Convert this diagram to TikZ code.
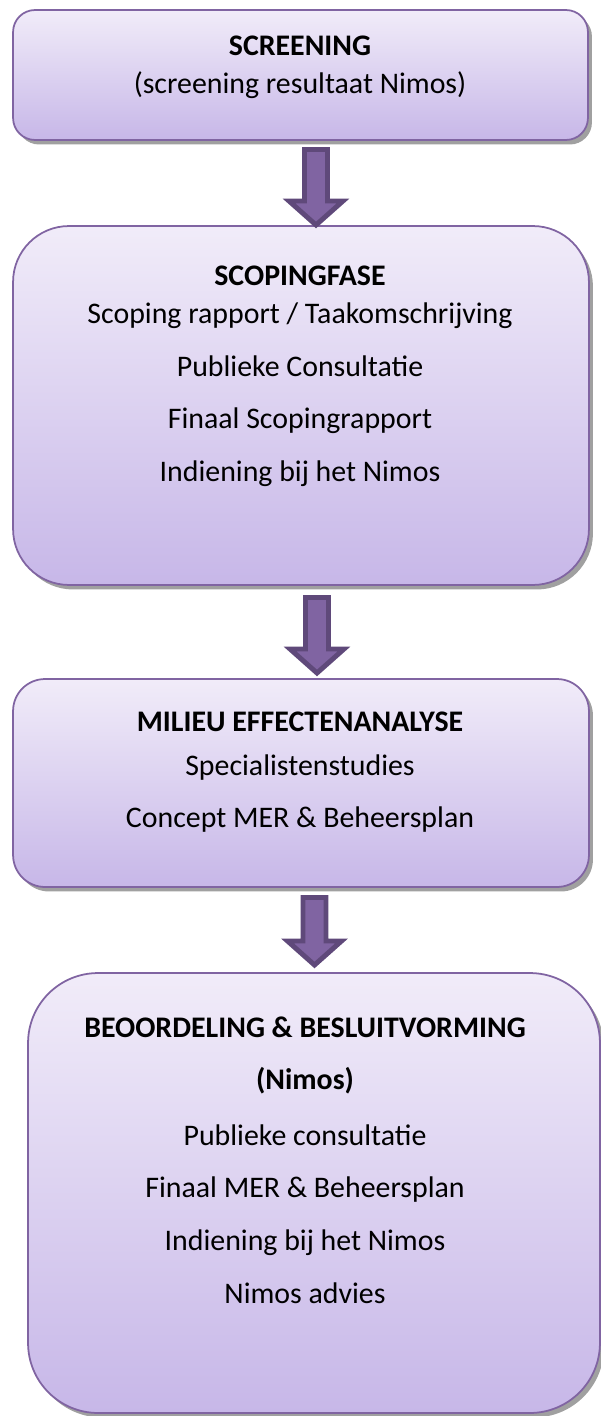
\documentclass[tikz,border=0pt]{standalone}
\usepackage{fontspec}
\setmainfont{Carlito}
\usetikzlibrary{shadows}

\definecolor{paarsrand}{RGB}{128,100,162}
\definecolor{paarslicht}{RGB}{241,236,249}
\definecolor{paarsdonker}{RGB}{199,183,232}
\definecolor{pijlvul}{RGB}{128,100,162}
\definecolor{pijlrand}{RGB}{95,73,122}
\definecolor{schaduw}{RGB}{160,160,160}

\tikzset{
  fase/.style={draw=paarsrand, line width=1pt, top color=paarslicht, bottom color=paarsdonker,
    drop shadow={shadow xshift=0.08cm, shadow yshift=-0.09cm, fill=schaduw, opacity=1},
    inner sep=0pt},
  tekst/.style={anchor=base, font=\fontsize{17}{20}\selectfont},
  titel/.style={anchor=base, font=\fontsize{17}{20}\selectfont\bfseries},
  pijl/.style={draw=pijlrand, fill=pijlvul, line width=2.8pt, line join=miter}
}

\begin{document}
\begin{tikzpicture}[x=0.02cm,y=-0.02cm]
\useasboundingbox (0,0) rectangle (601,1416);

% fasen
\node[fase, rounded corners=0.44cm, minimum width=11.5cm, minimum height=2.6cm] (screening) at (300.5,75) {};
\node[fase, rounded corners=1.12cm, minimum width=11.52cm, minimum height=7.18cm] (scoping) at (301,405.5) {};
\node[fase, rounded corners=0.64cm, minimum width=11.52cm, minimum height=4.16cm] (milieu) at (301,783) {};
\node[fase, rounded corners=1.4cm, minimum width=11.44cm, minimum height=8.8cm] (beoordeling) at (314,1193) {};

% teksten
\node[titel] (t1) at (300,56) {SCREENING};
\node[tekst] (t1a) at (300,93) {(screening resultaat Nimos)};

\node[titel] (t2) at (300,285) {SCOPINGFASE};
\node[tekst] (t2a) at (300,323) {Scoping rapport / Taakomschrijving};
\node[tekst] (t2b) at (300,376) {Publieke Consultatie};
\node[tekst] (t2c) at (300,428) {Finaal Scopingrapport};
\node[tekst] (t2d) at (300,481) {Indiening bij het Nimos};

\node[titel] (t3) at (300,731) {MILIEU EFFECTENANALYSE};
\node[tekst] (t3a) at (300,775) {Specialistenstudies};
\node[tekst] (t3b) at (300,827) {Concept MER \& Beheersplan};

\node[titel] (t4) at (305,1037) {BEOORDELING \& BESLUITVORMING};
\node[titel] (t4a) at (305,1089) {(Nimos)};
\node[tekst] (t4b) at (305,1145) {Publieke consultatie};
\node[tekst] (t4c) at (305,1197) {Finaal MER \& Beheersplan};
\node[tekst] (t4d) at (305,1250) {Indiening bij het Nimos};
\node[tekst] (t4e) at (305,1303) {Nimos advies};

% pijlen
\coordinate (p1) at (316,149.5);
\coordinate (p2) at (317,597.5);
\coordinate (p3) at (314.5,897.5);
\draw[pijl] (p1) ++(-11.5,0) -- ++(23,0) -- ++(0,51.5) -- ++(15.5,0) -- ++(-27,24) -- ++(-27,-24) -- ++(15.5,0) -- cycle;
\draw[pijl] (p2) ++(-11.5,0) -- ++(23,0) -- ++(0,51.5) -- ++(15.5,0) -- ++(-27,24) -- ++(-27,-24) -- ++(15.5,0) -- cycle;
\draw[pijl] (p3) ++(-11.5,0) -- ++(23,0) -- ++(0,43.5) -- ++(15.5,0) -- ++(-27,24) -- ++(-27,-24) -- ++(15.5,0) -- cycle;
\end{tikzpicture}
\end{document}
